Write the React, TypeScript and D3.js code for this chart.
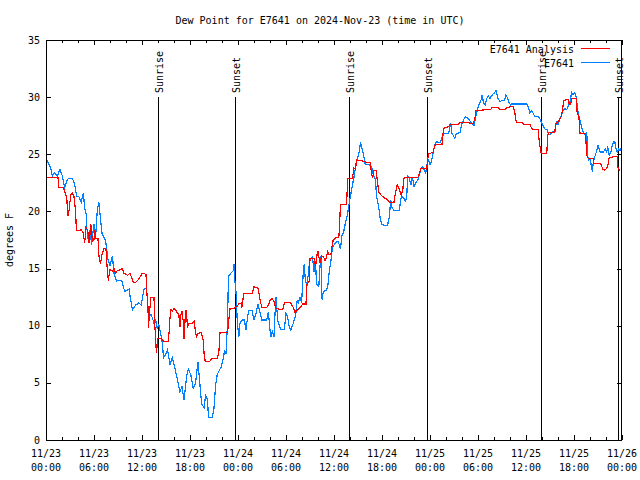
import React from "react";
import * as d3 from "d3";

// Hours since 2024-11-23 00:00 UTC
const obsHours = [0.0,0.08,0.58,0.79,1.08,1.42,1.75,2.04,2.33,2.67,2.9,3.29,3.58,3.83,4.1,4.4,4.67,4.83,5.04,5.08,5.29,5.5,5.7,6.0,6.2,6.4,6.6,6.8,7.0,7.46,7.75,8.0,8.3,8.5,8.83,9.25,9.5,9.83,10.4,10.5,10.8,11.2,11.6,11.9,12.25,12.5,12.7,12.8,13.1,13.3,13.5,13.7,13.9,14.1,14.3,14.5,14.7,14.96,15.2,15.5,15.8,16.2,16.4,16.75,17.0,17.25,17.6,17.8,18.1,18.4,18.7,18.9,19.0,19.25,19.45,19.75,19.95,20.2,20.3,20.8,21.0,21.2,21.4,21.6,21.9,22.2,22.3,22.5,22.7,22.8,23.1,23.4,23.5,23.6,23.75,23.9,24.1,24.25,24.5,24.8,25.0,25.2,25.33,25.75,26.0,26.25,26.5,26.75,27.0,27.6,27.8,28.0,28.1,28.3,28.5,28.7,28.75,28.96,29.3,29.8,30.0,30.2,30.4,30.6,30.9,31.2,31.4,31.55,31.75,31.95,32.2,32.3,32.4,32.6,32.8,33.0,33.2,33.3,33.5,33.7,33.8,34.1,34.25,34.4,34.5,34.67,35.0,35.2,35.4,35.6,35.8,36.1,36.5,36.65,36.8,37.0,37.2,37.4,37.7,37.9,38.1,38.3,38.5,38.75,38.95,39.2,39.3,39.5,39.7,39.9,40.4,40.7,40.9,41.2,41.3,41.6,41.75,41.96,42.2,42.7,42.9,43.1,43.25,43.5,44.2,44.3,44.5,44.7,44.9,45.0,45.1,45.2,45.4,45.6,45.8,46.0,46.25,46.5,46.7,46.9,47.1,47.3,47.45,47.6,47.8,48.0,48.2,48.4,48.6,48.8,49.25,49.7,50.3,50.6,50.7,51.1,51.3,51.75,52.0,52.4,52.8,53.2,53.5,53.8,54.1,54.4,54.5,54.7,54.9,55.1,55.3,55.5,55.7,55.9,56.1,56.25,56.5,56.75,56.96,57.3,57.5,57.7,57.9,58.1,58.2,60.1,60.3,60.5,60.7,60.9,61.1,61.5,61.75,62.0,62.2,62.4,62.6,62.8,63.0,63.1,63.4,63.6,63.8,64.0,64.2,64.4,64.7,64.9,65.1,65.3,65.5,65.7,65.9,66.1,66.3,66.5,66.75,66.96,67.2,67.4,67.6,67.7,67.8,68.0,68.2,68.3,68.4,68.6,68.8,69.0,69.25,69.7,69.9,70.1,70.2,70.4,70.6,70.8,71.0,71.1,71.25,71.4,71.6,71.75,71.9];
const obsValues = [24.6,24.5,23.8,23.1,23.4,23.1,23.7,23.1,22.1,22.8,22.9,22.9,22.4,21.3,21.3,20.8,21.6,20.3,19.7,18.7,17.4,18.4,17.1,18.9,17.8,20.0,20.8,19.4,18.1,17.4,15.8,15.3,16.1,14.6,13.9,14.0,13.9,13.0,13.2,12.6,11.4,11.8,12.0,11.8,13.2,13.3,12.4,10.7,11.0,10.7,10.2,10.5,9.8,10.1,9.4,8.7,7.2,7.5,7.9,6.6,7.2,6.0,5.4,4.2,4.7,3.5,5.7,6.2,5.7,4.5,5.0,6.3,6.8,4.8,3.2,2.8,3.9,3.5,2.0,2.0,2.8,4.8,5.7,6.0,6.4,7.2,7.9,7.5,10.4,14.3,14.6,14.8,15.4,14.0,13.0,10.5,9.0,10.2,10.5,10.5,9.6,10.8,11.3,11.3,10.5,11.1,11.9,11.2,10.5,10.5,11.2,9.6,9.0,9.5,9.0,12.2,12.5,10.5,9.7,9.7,11.1,10.8,9.9,9.6,10.2,10.9,12.2,12.0,12.5,12.0,15.2,15.3,14.1,13.4,14.6,15.9,15.9,16.1,14.7,15.7,13.7,13.4,15.2,16.2,12.3,13.0,13.1,13.3,14.7,15.6,16.8,17.2,17.4,17.1,16.7,17.9,18.2,18.9,19.8,20.7,21.5,22.3,23.0,24.1,24.6,25.4,26.1,25.5,24.9,24.1,24.1,23.9,23.2,22.8,21.4,20.3,19.5,18.9,18.8,18.8,19.5,21.0,20.3,20.1,20.1,21.0,21.3,21.2,20.9,21.0,21.3,23.1,23.0,22.3,23.0,22.2,22.5,22.8,23.3,23.8,23.9,23.6,23.3,24.0,24.6,24.1,24.4,25.2,25.8,26.1,26.0,26.8,26.8,27.7,26.9,26.4,26.8,26.9,27.7,28.3,28.1,27.7,27.5,28.6,29.3,29.8,30.2,29.5,29.3,29.9,30.1,29.9,30.1,30.3,30.4,30.6,29.9,29.6,29.7,29.7,30.2,29.9,29.5,29.3,29.4,29.4,29.1,28.6,28.8,28.6,28.3,28.3,28.1,27.7,27.4,27.2,27.2,26.8,26.7,26.8,27.0,26.9,27.8,27.6,28.0,28.4,28.9,29.0,28.9,29.3,29.6,30.4,30.2,30.4,29.9,28.7,28.0,27.4,26.8,26.7,26.9,24.9,24.5,24.6,23.9,23.5,24.2,24.8,25.2,25.8,25.2,25.2,25.5,25.2,25.7,24.9,25.2,25.8,26.1,26.1,25.5,25.2,25.5,25.3,25.6];

const anaHours = [0.0,1.5,1.6,2.1,2.33,2.6,2.75,2.9,3.1,3.3,3.5,3.7,3.8,4.1,4.4,4.67,4.83,5.0,5.2,5.4,5.6,5.8,6.0,6.1,6.2,6.5,6.6,6.8,7.0,7.25,7.5,7.67,7.8,7.96,8.3,8.5,8.7,8.9,9.3,9.5,9.75,10.2,10.5,10.7,10.9,11.2,11.5,11.8,12.0,12.5,12.6,12.75,12.8,13.0,13.1,13.5,13.6,13.7,13.8,14.0,14.4,14.75,15.25,15.4,15.5,15.6,15.8,16.0,16.2,16.4,16.6,16.75,16.8,17.0,17.2,17.25,17.4,17.5,17.7,17.9,18.3,18.5,18.6,18.8,19.0,19.25,19.4,19.7,19.75,19.9,20.5,20.7,21.4,21.6,21.75,22.7,22.8,23.0,23.5,23.6,23.9,24.1,24.4,24.5,24.7,25.75,26.0,26.5,26.8,27.0,27.6,27.8,28.0,28.25,28.5,28.75,29.6,29.8,30.6,30.9,31.2,31.25,31.5,31.75,32.1,32.5,32.6,32.9,33.0,33.5,33.7,33.9,34.0,34.25,34.45,34.7,34.9,35.1,35.2,35.4,35.6,35.75,35.9,36.25,36.6,36.7,36.8,37.5,37.6,37.7,38.3,38.5,38.7,38.8,39.7,40.0,40.5,40.6,40.8,41.0,41.25,41.4,41.6,41.9,42.3,42.7,43.0,43.5,43.7,43.9,44.2,44.4,44.6,44.7,44.8,46.5,46.7,46.9,47.6,47.7,47.9,48.1,48.4,48.6,49.5,49.6,49.75,50.3,50.5,51.5,51.75,52.8,53.0,53.4,53.6,53.75,54.9,55.6,55.7,56.5,56.75,57.4,57.6,58.4,58.6,58.7,58.8,59.5,59.7,60.5,60.6,60.8,61.5,61.6,61.75,61.9,62.6,62.7,62.8,63.6,63.7,64.1,64.4,64.6,64.7,65.3,65.4,65.6,65.7,66.3,66.4,66.6,66.75,67.4,67.5,67.6,67.8,68.4,68.5,69.25,69.4,69.6,69.8,70.0,70.2,70.4,71.0,71.4,71.5,71.6,71.8];
const anaValues = [23.0,23.0,22.1,22.1,21.8,21.1,19.6,20.2,21.5,21.6,21.3,20.0,18.3,18.3,18.4,18.1,17.2,18.6,18.4,17.2,18.9,17.4,17.5,18.4,17.6,17.6,16.2,15.4,16.2,16.8,16.7,14.8,13.9,14.9,14.8,15.0,14.6,14.8,14.9,15.0,14.6,14.4,14.6,14.2,13.8,13.8,14.0,14.3,14.6,14.5,13.0,11.6,9.8,11.6,12.5,12.5,10.1,8.9,7.6,8.9,8.9,8.6,8.6,9.5,10.7,11.4,11.3,11.5,11.4,11.1,11.0,9.9,10.8,11.3,10.1,8.8,10.7,11.4,9.9,10.2,10.2,10.4,9.9,9.0,9.3,9.4,9.4,8.6,7.6,6.9,6.9,7.1,7.1,7.6,9.4,9.4,10.1,11.5,11.5,11.6,11.7,11.9,12.0,11.6,12.8,12.8,13.4,13.3,12.1,11.6,11.6,11.8,12.2,12.4,12.1,11.5,11.4,12.0,12.0,11.6,11.0,11.3,11.4,11.6,11.9,11.9,13.6,13.9,15.9,15.9,15.2,16.3,16.5,15.5,16.1,16.0,15.7,16.1,16.5,16.2,16.2,16.9,17.5,17.7,17.7,18.8,20.6,20.6,21.0,22.9,22.9,23.8,23.7,24.5,24.4,24.3,24.3,23.8,22.9,23.6,23.6,22.8,21.7,21.4,21.2,21.0,20.8,20.8,21.7,22.3,21.9,21.4,21.9,22.7,23.0,23.0,23.4,23.8,23.7,24.6,25.1,25.1,25.2,25.8,25.9,26.7,27.3,27.4,27.6,27.6,27.8,27.8,27.7,27.7,28.1,28.8,28.9,28.9,29.1,29.1,28.9,28.9,29.1,29.2,28.7,28.1,27.8,27.8,27.6,27.6,27.4,27.2,27.2,26.5,25.7,25.1,25.1,26.5,26.9,26.9,27.7,27.9,28.3,29.0,29.7,29.8,29.4,29.4,29.9,29.9,28.6,28.4,26.8,26.8,26.1,24.9,24.6,24.6,24.2,24.2,24.1,23.7,23.6,23.7,23.9,24.7,24.8,24.8,23.8,23.7,23.5];

const sunHours = [14.0, 23.62, 37.9, 47.58, 61.9, 71.55];
const sunLabels = ["Sunrise", "Sunset", "Sunrise", "Sunset", "Sunrise", "Sunset"];
const yTicks = [0, 5, 10, 15, 20, 25, 30, 35];
const xTickHours = [0, 6, 12, 18, 24, 30, 36, 42, 48, 54, 60, 66, 72];
const seriesNames = ["E7641 Analysis", "E7641"];
const seriesColors = ["#ff0000", "#0080ff"];

const start = Date.UTC(2024, 10, 23, 0, 0);
const toDate = (h: number) => new Date(start + h * 3600 * 1000);

const W = 640, H = 480;
const L = 46, R = 622, T = 40, B = 440;
const FONT = "'DejaVu Sans Mono', monospace";

export default function App() {
  const x = d3.scaleUtc().domain([toDate(0), toDate(72)]).range([L, R]);
  const y = d3.scaleLinear().domain([0, 35]).range([B, T]);
  const fmtD = d3.utcFormat("%m/%d");
  const fmtT = d3.utcFormat("%H:%M");

  const line = d3.line<[number, number]>()
    .x((d) => x(toDate(d[0])))
    .y((d) => y(d[1]));
  const obs = obsHours.map((h, i) => [h, obsValues[i]] as [number, number]);
  const ana = anaHours.map((h, i) => [h, anaValues[i]] as [number, number]);

  const minorHours = d3.range(0, 73, 2).filter((h) => h % 6 !== 0);

  return (
    <svg width={W} height={H} style={{ display: "block", position: "absolute", left: 0, top: 0, background: "#fff" }}
      fontFamily={FONT} fontSize={10}>
      <rect x={0} y={0} width={W} height={H} fill="#fff" />
      <text x={320} y={24} textAnchor="middle" fill="#000">Dew Point for E7641 on 2024-Nov-23 (time in UTC)</text>
      <text transform="translate(13,240) rotate(-90)" textAnchor="middle" fill="#000">degrees F</text>

      {/* y ticks */}
      {yTicks.map((v) => (
        <g key={"y" + v}>
          <line x1={L} x2={L + 5} y1={Math.round(y(v)) + 0.5} y2={Math.round(y(v)) + 0.5} stroke="#000" />
          <line x1={R - 5} x2={R} y1={Math.round(y(v)) + 0.5} y2={Math.round(y(v)) + 0.5} stroke="#000" />
          <text x={40} y={y(v)} dy="0.35em" textAnchor="end" fill="#000">{v}</text>
        </g>
      ))}
      {/* x ticks */}
      {xTickHours.map((h) => {
        const xx = Math.round(x(toDate(h))) + 0.5;
        return (
          <g key={"x" + h}>
            <line x1={xx} x2={xx} y1={B} y2={B - 5} stroke="#000" />
            <line x1={xx} x2={xx} y1={T} y2={T + 5} stroke="#000" />
            <text x={x(toDate(h))} y={457} textAnchor="middle" fill="#000">{fmtD(toDate(h))}</text>
            <text x={x(toDate(h))} y={471} textAnchor="middle" fill="#000">{fmtT(toDate(h))}</text>
          </g>
        );
      })}
      {minorHours.map((h) => {
        const xx = Math.round(x(toDate(h))) + 0.5;
        return (
          <g key={"m" + h}>
            <line x1={xx} x2={xx} y1={B} y2={B - 3} stroke="#000" />
            <line x1={xx} x2={xx} y1={T} y2={T + 3} stroke="#000" />
          </g>
        );
      })}

      {/* sunrise / sunset */}
      {sunHours.map((h, i) => {
        const xx = Math.round(x(toDate(h))) + 0.5;
        return (
          <g key={"s" + i}>
            <line x1={xx} x2={xx} y1={97} y2={B} stroke="#000" />
            <text transform={`translate(${xx + 4},93) rotate(-90)`} textAnchor="start" fill="#000">{sunLabels[i]}</text>
          </g>
        );
      })}

      {/* data */}
      <path d={line(obs) || ""} fill="none" stroke={seriesColors[1]} strokeWidth={1.2} shapeRendering="crispEdges" />
      <path d={line(ana) || ""} fill="none" stroke={seriesColors[0]} strokeWidth={1.2} shapeRendering="crispEdges" />

      {/* legend */}
      <text x={574} y={53} textAnchor="end" fill="#000">{seriesNames[0]}</text>
      <line x1={581} x2={610} y1={48.5} y2={48.5} stroke={seriesColors[0]} />
      <text x={574} y={67} textAnchor="end" fill="#000">{seriesNames[1]}</text>
      <line x1={581} x2={610} y1={62.5} y2={62.5} stroke={seriesColors[1]} />

      <rect x={L + 0.5} y={T + 0.5} width={R - L - 1} height={B - T} fill="none" stroke="#000" />
    </svg>
  );
}
